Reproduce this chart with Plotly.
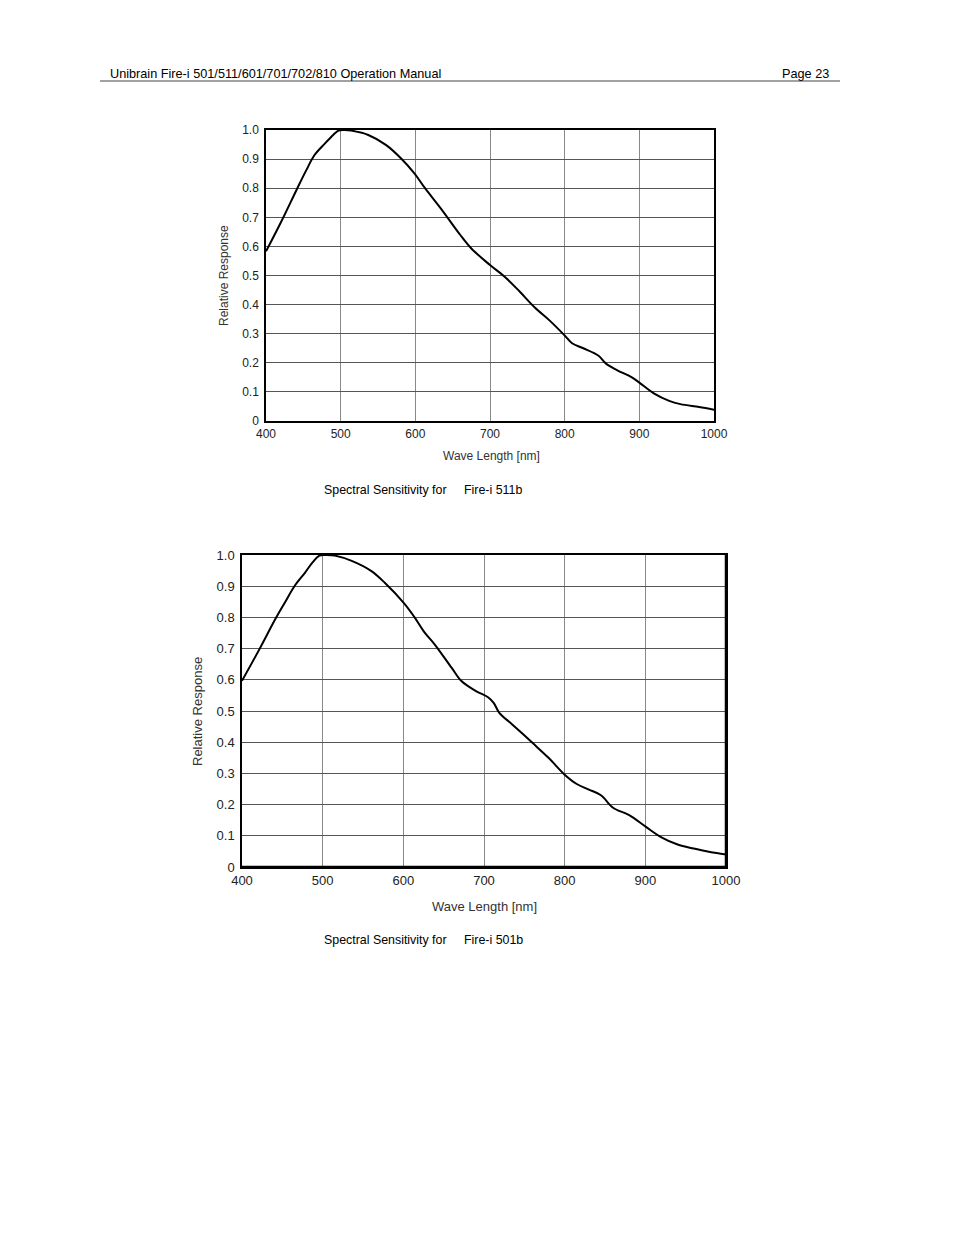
import plotly.graph_objects as go

W, H = 954, 1235
OFF = 8  # page body margin in the browser

# ---- data ----
wl_511b = [400, 420, 442, 454, 465, 479, 490, 497, 505, 514, 537, 561, 581, 599, 613, 636, 660, 675,
           700, 720, 740, 760, 780, 800, 810, 825, 845, 855, 870, 890, 900, 920, 940, 955, 980, 1000]
resp_511b = [0.583, 0.683, 0.80, 0.862, 0.914, 0.954, 0.983, 0.998, 1.0, 0.998, 0.983, 0.948, 0.902,
             0.85, 0.80, 0.724, 0.64, 0.593, 0.536, 0.495, 0.444, 0.39, 0.345, 0.294, 0.267, 0.25,
             0.225, 0.198, 0.175, 0.15, 0.132, 0.094, 0.069, 0.058, 0.048, 0.039]

wl_501b = [400, 422, 441, 453, 465, 478, 488, 496, 505, 515, 536, 560, 577, 601, 614, 626, 639, 660,
           672, 690, 705, 712, 719, 735, 760, 780, 800, 815, 830, 845, 860, 880, 900, 920, 940, 960,
           980, 1000]
resp_501b = [0.597, 0.70, 0.793, 0.847, 0.90, 0.943, 0.978, 0.998, 1.0, 0.998, 0.981, 0.949, 0.911,
             0.845, 0.80, 0.753, 0.713, 0.638, 0.596, 0.564, 0.544, 0.526, 0.494, 0.457, 0.398, 0.35,
             0.296, 0.266, 0.248, 0.23, 0.19, 0.166, 0.13, 0.095, 0.072, 0.059, 0.048, 0.04]

x_ticks = [400, 500, 600, 700, 800, 900, 1000]
y_ticks = [0, 0.1, 0.2, 0.3, 0.4, 0.5, 0.6, 0.7, 0.8, 0.9, 1.0]
y_tick_text = ["0", "0.1", "0.2", "0.3", "0.4", "0.5", "0.6", "0.7", "0.8", "0.9", "1.0"]

header_left = "Unibrain Fire-i 501/511/601/701/702/810 Operation Manual"
header_right = "Page 23"
captions = [("Spectral Sensitivity for", "Fire-i 511b"), ("Spectral Sensitivity for", "Fire-i 501b")]
x_title = "Wave Length [nm]"
y_title = "Relative Response"


def px(x):
    return (x - OFF) / W


def py(y):
    return 1 - (y - OFF) / H


fig = go.Figure()
fig.add_trace(go.Scatter(x=wl_511b, y=resp_511b, mode="lines", xaxis="x", yaxis="y",
                         line=dict(color="black", width=2, shape="spline", smoothing=1.0),
                         showlegend=False, hoverinfo="skip"))
fig.add_trace(go.Scatter(x=wl_501b, y=resp_501b, mode="lines", xaxis="x2", yaxis="y2",
                         line=dict(color="black", width=2, shape="spline", smoothing=1.0),
                         showlegend=False, hoverinfo="skip"))

tick_font1 = dict(family="Liberation Sans, Arial", size=12, color="#222")
tick_font2 = dict(family="Liberation Sans, Arial", size=13, color="#222")

def xaxis(dom, anchor, font, tl):
    return dict(domain=dom, anchor=anchor, range=[400, 1000], tickvals=x_ticks,
                ticks="outside", ticklen=tl, tickcolor="rgba(0,0,0,0)", tickfont=font,
                showgrid=True, gridcolor="#888", gridwidth=1, zeroline=False, automargin=False,
                showline=True, linecolor="black", linewidth=1.5, mirror=True, fixedrange=True)

def yaxis(dom, anchor, font):
    return dict(domain=dom, anchor=anchor, range=[0, 1], tickvals=y_ticks, ticktext=y_tick_text,
                ticks="outside", ticklen=3, tickcolor="rgba(0,0,0,0)", tickfont=font,
                showgrid=True, gridcolor="#555", gridwidth=1, zeroline=False, automargin=False,
                showline=True, linecolor="black", linewidth=1.5, mirror=True, fixedrange=True)

fig.update_layout(
    template="none",
    width=W, height=H, autosize=False,
    margin=dict(l=0, r=0, t=0, b=0, pad=0),
    paper_bgcolor="white", plot_bgcolor="white",
    xaxis=xaxis([px(266), px(714)], "y", tick_font1, 1),
    yaxis=yaxis([py(421), py(130)], "x", tick_font1),
    xaxis2=xaxis([px(242), px(726)], "y2", tick_font2, 1),
    yaxis2=yaxis([py(867), py(555)], "x2", tick_font2),
)

ann = []
hfont = dict(family="Liberation Sans, Arial", size=12.7, color="black")
cfont = dict(family="Liberation Sans, Arial", size=12.4, color="black")
ann.append(dict(text=header_left, x=px(108), y=py(74), xanchor="left", yanchor="middle", font=hfont))
ann.append(dict(text=header_right, x=px(831), y=py(74), xanchor="right", yanchor="middle", font=hfont))

for (a, b), yc in zip(captions, [490, 940]):
    ann.append(dict(text=a, x=px(322), y=py(yc), xanchor="left", yanchor="middle", font=cfont))
    ann.append(dict(text=b, x=px(462), y=py(yc), xanchor="left", yanchor="middle", font=cfont))

tfont1 = dict(family="Liberation Sans, Arial", size=12, color="#333")
tfont2 = dict(family="Liberation Sans, Arial", size=13, color="#333")
ann.append(dict(text=x_title, x=px(491), y=py(456), xanchor="center", yanchor="middle", font=tfont1))
ann.append(dict(text=y_title, x=px(224), y=py(276), xanchor="center", yanchor="middle", textangle=-90, font=tfont1))
ann.append(dict(text=x_title, x=px(484), y=py(906), xanchor="center", yanchor="middle", font=tfont2))
ann.append(dict(text=y_title, x=px(197), y=py(712), xanchor="center", yanchor="middle", textangle=-90, font=tfont2))

for a in ann:
    a.update(xref="paper", yref="paper", showarrow=False)
fig.update_layout(annotations=ann)

shapes = [dict(type="line", xref="paper", yref="paper",
               x0=px(100), x1=px(840), y0=py(81), y1=py(81),
               line=dict(color="#444", width=1))]
# heavier right and bottom frame on the second chart
shapes.append(dict(type="line", xref="x2 domain", yref="y2 domain", x0=0, x1=1, y0=0, y1=0,
                   line=dict(color="black", width=2.5)))
shapes.append(dict(type="line", xref="x2 domain", yref="y2 domain", x0=1, x1=1, y0=0, y1=1,
                   line=dict(color="black", width=2.5)))
fig.update_layout(shapes=shapes)

fig.write_html("out.html", config={"displayModeBar": False})
